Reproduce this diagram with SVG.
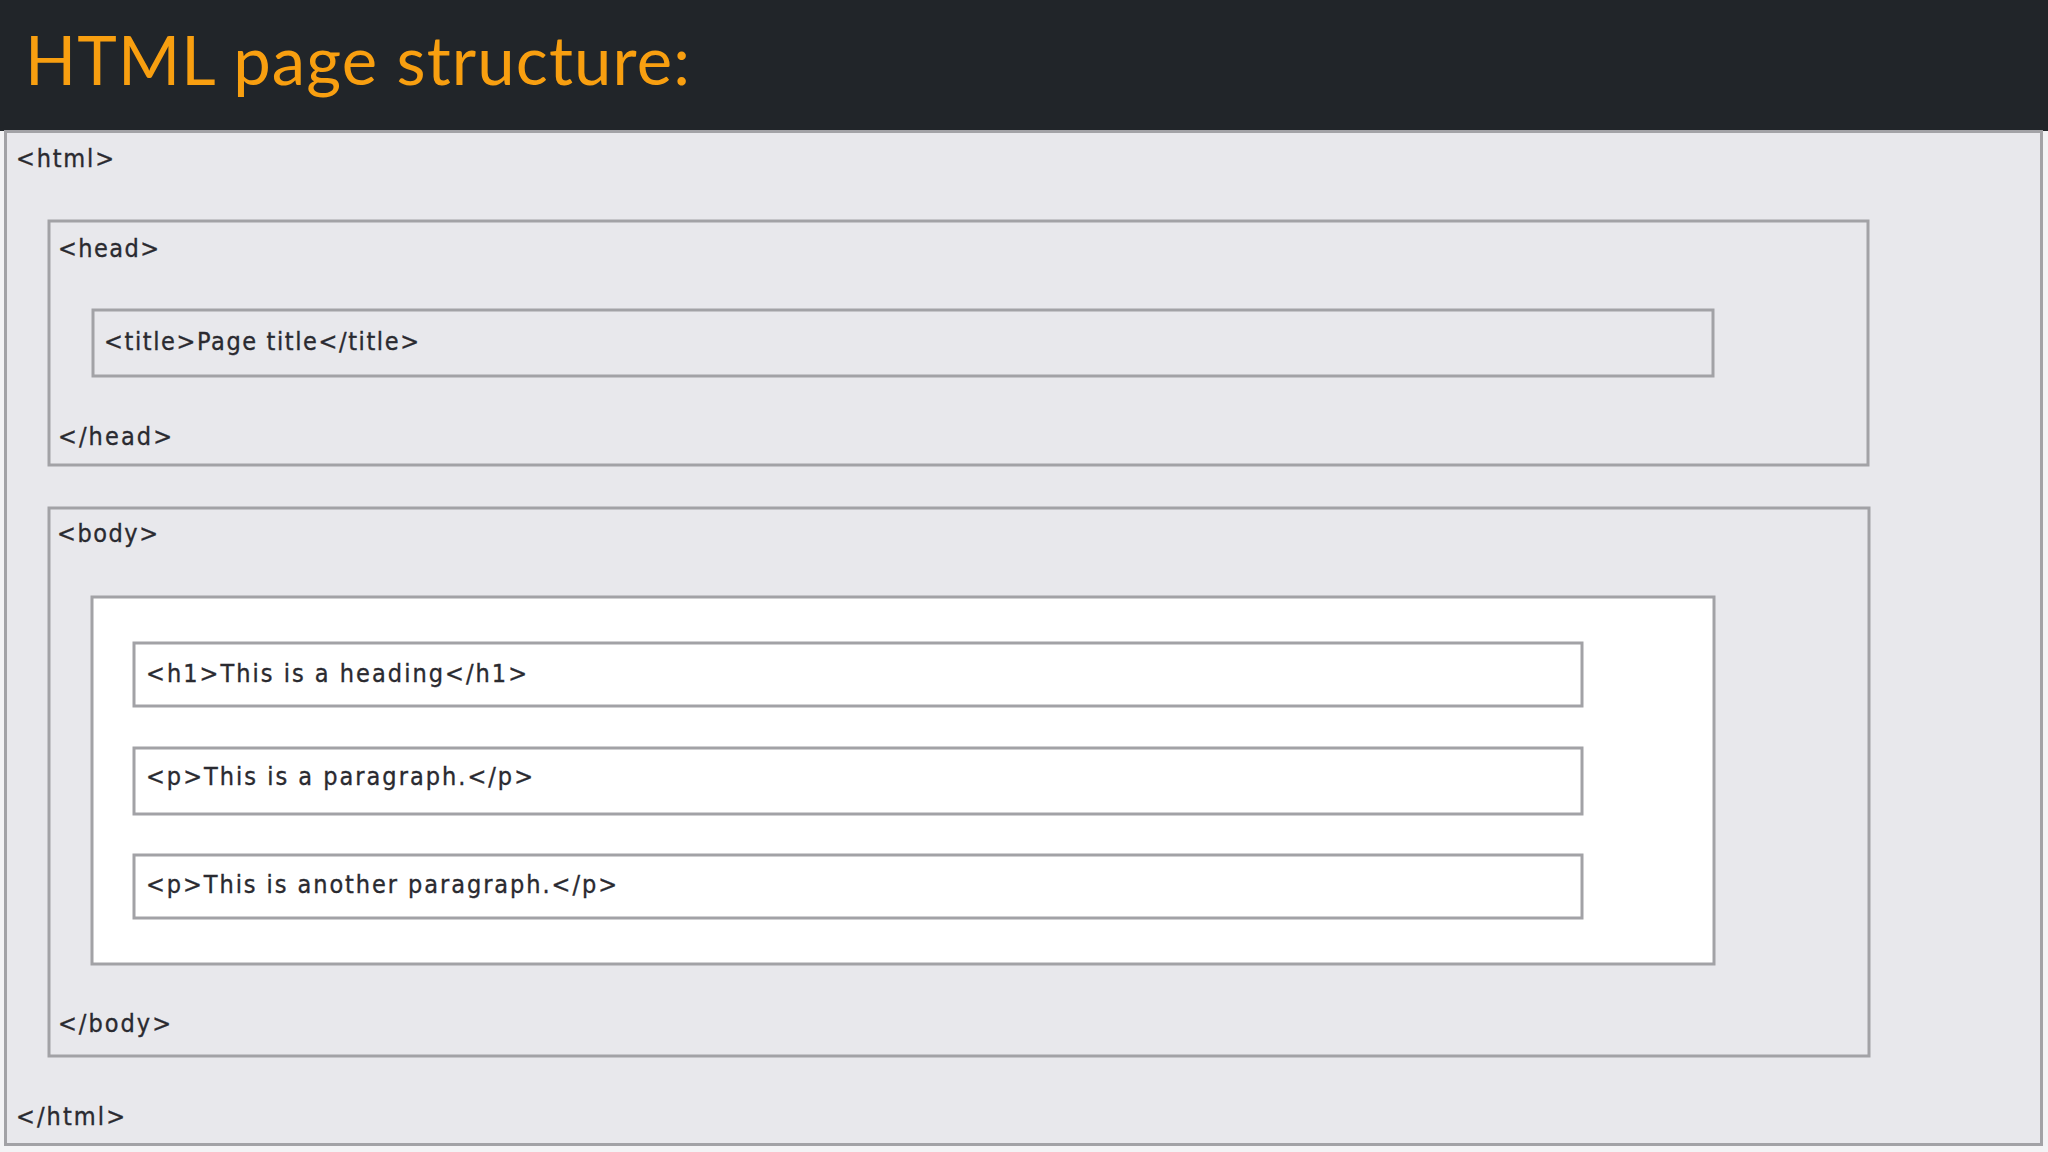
<svg xmlns="http://www.w3.org/2000/svg" width="2048" height="1152" viewBox="0 0 2048 1152">
  <style>
    .box { fill: none; stroke: #a2a2a6; stroke-width: 3; }
    .white { fill: #ffffff; }
    .tag { font-family: "DejaVu Sans Condensed", "DejaVu Sans", Verdana, sans-serif; font-size: 25px; fill: #2a2a30; stroke: #2a2a30; stroke-width: 0.35; }
    .title { font-family: Lato, "Open Sans", sans-serif; font-size: 67px; fill: #f89f10; }
  </style>
  <rect x="0" y="0" width="2048" height="1152" fill="#f3f3f5"/>
  <g id="header">
    <rect x="0" y="0" width="2048" height="131" fill="#212529"/>
    <text class="title" x="25" y="85" textLength="665" lengthAdjust="spacing">HTML page structure:</text>
  </g>
  <g id="html">
    <rect x="5.5" y="131.5" width="2036" height="1013" fill="#e8e8ec" stroke="#a2a2a6" stroke-width="3"/>
    <text class="tag" x="16" y="167" textLength="98" lengthAdjust="spacing">&lt;html&gt;</text>
    <text class="tag" x="16" y="1125" textLength="109" lengthAdjust="spacing">&lt;/html&gt;</text>
  </g>
  <g id="head">
    <rect class="box" x="49" y="221" width="1819" height="244"/>
    <text class="tag" x="58" y="257" textLength="101" lengthAdjust="spacing">&lt;head&gt;</text>
    <text class="tag" x="58" y="445" textLength="114" lengthAdjust="spacing">&lt;/head&gt;</text>
  </g>
  <g id="title">
    <rect class="box" x="93" y="310" width="1620" height="66"/>
    <text class="tag" x="104" y="350" textLength="315" lengthAdjust="spacing">&lt;title&gt;Page title&lt;/title&gt;</text>
  </g>
  <g id="body">
    <rect class="box" x="49" y="508" width="1820" height="548"/>
    <text class="tag" x="57" y="542" textLength="101" lengthAdjust="spacing">&lt;body&gt;</text>
    <text class="tag" x="58" y="1032" textLength="113" lengthAdjust="spacing">&lt;/body&gt;</text>
  </g>
  <g id="content">
    <rect class="box white" x="92" y="597" width="1622" height="367"/>
  </g>
  <g id="h1">
    <rect class="box white" x="134" y="643" width="1448" height="63"/>
    <text class="tag" x="146" y="682" textLength="381" lengthAdjust="spacing">&lt;h1&gt;This is a heading&lt;/h1&gt;</text>
  </g>
  <g id="p1">
    <rect class="box white" x="134" y="748" width="1448" height="66"/>
    <text class="tag" x="146" y="785" textLength="387" lengthAdjust="spacing">&lt;p&gt;This is a paragraph.&lt;/p&gt;</text>
  </g>
  <g id="p2">
    <rect class="box white" x="134" y="855" width="1448" height="63"/>
    <text class="tag" x="146" y="893" textLength="471" lengthAdjust="spacing">&lt;p&gt;This is another paragraph.&lt;/p&gt;</text>
  </g>
  <g id="connectors"/>
</svg>
